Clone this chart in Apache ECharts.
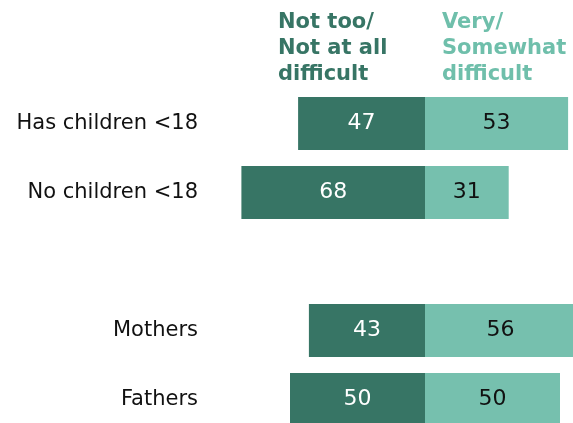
<!DOCTYPE html>
<html><head><meta charset="utf-8">
<script src="https://cdn.jsdelivr.net/npm/echarts@6/dist/echarts.min.js"></script>
<style>html,body{margin:0;padding:0;background:#fff}#c{width:573px;height:423px}</style>
</head><body><div id="c"></div>
<script>
const categories = ["Has children <18", "No children <18", "", "Mothers", "Fathers"];
const notDifficult = [47, 68, null, 43, 50];
const difficult = [53, 31, null, 56, 50];
const headerLeft = "Not too/\nNot at all\ndifficult";
const headerRight = "Very/\nSomewhat\ndifficult";

const DARK = "#377565", LIGHT = "#76c0ae";
const font = "DejaVu Sans, Verdana, sans-serif";
const chart = echarts.init(document.getElementById('c'));
chart.setOption({
  animation: false,
  grid: { left: 209, width: 378, top: 89, height: 345, outerBoundsMode: 'none' },
  xAxis: { type: 'value', min: -80, max: 60, show: false },
  yAxis: {
    type: 'category', data: categories, inverse: true,
    axisLine: { show: false }, axisTick: { show: false },
    axisLabel: { color: '#111', fontFamily: font, fontSize: 21, margin: 11 }
  },
  graphic: [
    { type: 'text', left: 278, top: 10, style: { text: headerLeft, fill: DARK, font: "bold 21px " + font, lineHeight: 26 } },
    { type: 'text', left: 442, top: 10, style: { text: headerRight, fill: "#6fbfab", font: "bold 21px " + font, lineHeight: 26 } }
  ],
  series: [
    {
      type: 'bar', data: notDifficult.map(v => v == null ? null : -v), barWidth: 53, barGap: '-100%',
      itemStyle: { color: DARK },
      label: { show: true, position: 'inside', color: '#fff', fontFamily: font, fontSize: 22,
        formatter: p => Math.abs(p.value) }
    },
    {
      type: 'bar', data: difficult, barWidth: 53, barGap: '-100%',
      itemStyle: { color: LIGHT },
      label: { show: true, position: 'inside', color: '#111', fontFamily: font, fontSize: 22,
        formatter: p => p.value }
    }
  ]
});
</script></body></html>
